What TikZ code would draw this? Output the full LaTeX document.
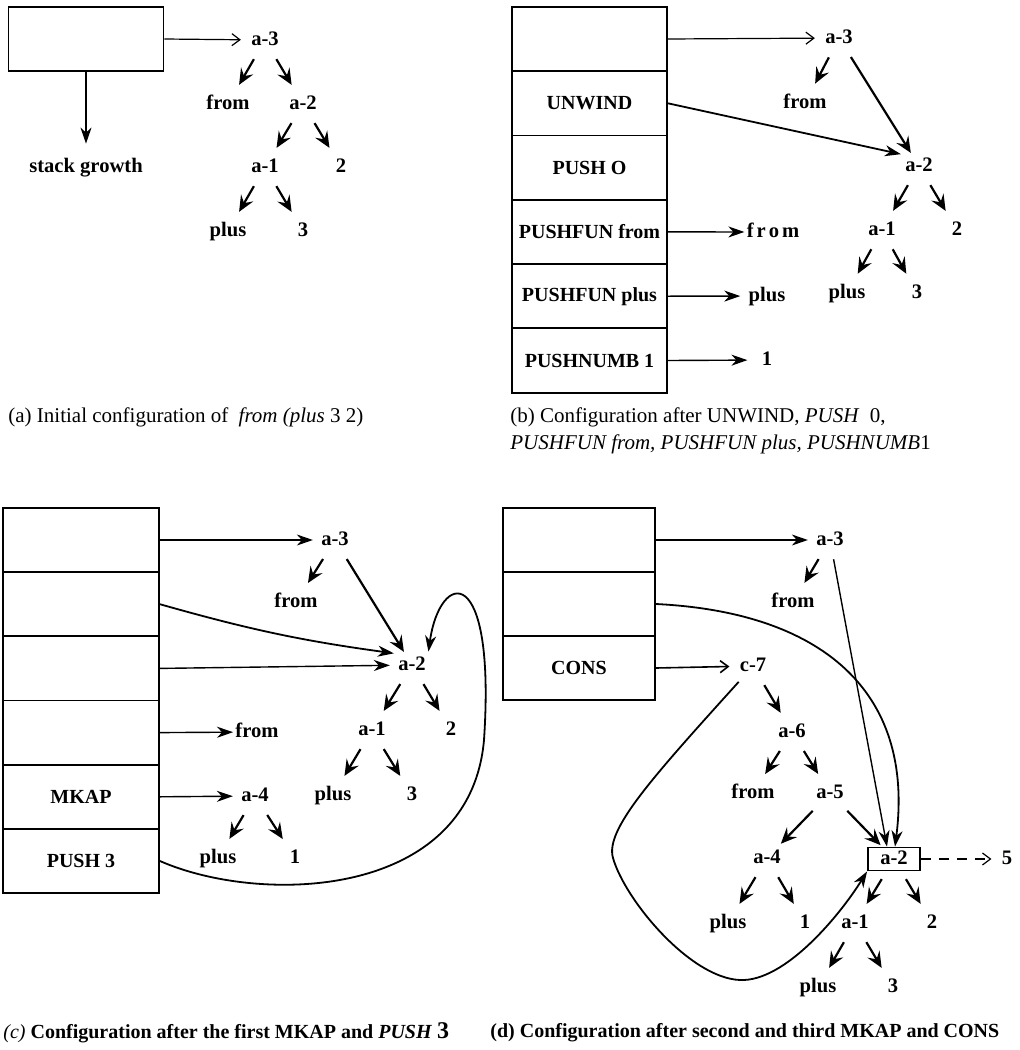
\documentclass[tikz,border=0pt]{standalone}
\usepackage{fontspec}
\setmainfont{Liberation Serif}
\usetikzlibrary{arrows.meta}

\tikzset{
  lbl/.style={font=\bfseries\fontsize{10.3}{12}\selectfont, inner sep=1pt, text height=7pt, text depth=2pt},
  cell/.style={draw, line width=0.9pt, minimum width=77.5pt, minimum height=32.15pt, inner sep=0pt,
    font=\bfseries\fontsize{10}{12}\selectfont},
  tarrow/.style={line width=1.1pt, -{Stealth[length=8pt,width=7pt,inset=3pt]}, shorten <=4.5pt, shorten >=4.5pt},
  ptr/.style={line width=0.7pt, -{Stealth[length=8pt,width=5.5pt,inset=2.5pt]}, shorten >=3pt},
  optr/.style={line width=0.6pt, -{Straight Barb[length=4pt,width=6pt]}, shorten >=4pt},
  capt/.style={font=\fontsize{10.5}{13.5}\selectfont, inner sep=0pt, anchor=west}
}

\begin{document}
\begin{tikzpicture}[x=0.5pt, y=-0.5pt]
	\useasboundingbox (0,0) rectangle (1020,1050);

	% (a) initial configuration
	\node[cell] (Sa) at (86,39) {};
	\node[lbl] (Ga) at (86,167) {stack growth};
	\node[lbl] (A3a) at (265,40) {a-3};
	\node[lbl] (Fa) at (228,104) {from};
	\node[lbl] (A2a) at (303,104) {a-2};
	\node[lbl] (A1a) at (265,167) {a-1};
	\node[lbl] (N2a) at (341,167) {2};
	\node[lbl] (Pa) at (228,231) {plus};
	\node[lbl] (N3a) at (303,231) {3};

	\draw[optr] (Sa.east) -- (A3a);
	\draw[ptr, line width=0.9pt, shorten >=6pt] (Sa) -- (Ga);
	\draw[tarrow] (A3a) -- (Fa);
	\draw[tarrow] (A3a) -- (A2a);
	\draw[tarrow] (A2a) -- (A1a);
	\draw[tarrow] (A2a) -- (N2a);
	\draw[tarrow] (A1a) -- (Pa);
	\draw[tarrow] (A1a) -- (N3a);

	\node[capt] (CapA) at (8,417) {(a) Initial configuration of\ \ \textit{from (plus} 3 2)};

	% (b) after UNWIND ... PUSHNUMB 1
	\node[cell] (B1) at (589.5,39) {};
	\node[cell] (B2) at (589.5,103.3) {UNWIND};
	\node[cell] (B3) at (589.5,167.6) {PUSH O};
	\node[cell] (B4) at (589.5,231.9) {PUSHFUN from};
	\node[cell] (B5) at (589.5,296.2) {PUSHFUN plus};
	\node[cell] (B6) at (589.5,360.5) {PUSHNUMB 1};

	\node[lbl] (A3b) at (839,38) {a-3};
	\node[lbl] (Fb) at (805,103) {from};
	\node[lbl] (A2b) at (919,166) {a-2};
	\node[lbl] (A1b) at (882,230) {a-1};
	\node[lbl] (N2b) at (957,230) {2};
	\node[lbl] (Pb) at (847,293) {plus};
	\node[lbl] (N3b) at (917,293) {3};
	\node[lbl] (FSb) at (773,232) {f\kern1.5pt r\kern1.5pt o\kern1.5pt m};
	\node[lbl] (PSb) at (767,296) {plus};
	\node[lbl] (N1b) at (767,360) {1};

	\draw[optr] (B1.east) -- (A3b);
	\draw[ptr, line width=0.9pt, shorten >=1pt] (B2.east) -- (A2b.north west);
	\draw[ptr, shorten >=0pt] (B4.east) -- (FSb);
	\draw[ptr] (B5.east) -- (PSb);
	\draw[ptr, shorten >=6pt] (B6.east) -- (N1b);
	\draw[tarrow] (A3b) -- (Fb);
	\draw[tarrow, shorten >=1pt] (A3b) -- (A2b);
	\draw[tarrow] (A2b) -- (A1b);
	\draw[tarrow] (A2b) -- (N2b);
	\draw[tarrow] (A1b) -- (Pb);
	\draw[tarrow] (A1b) -- (N3b);

	\node[capt, align=left] (CapB) at (510,431) {(b) Configuration after UNWIND, \textit{PUSH}\ \ 0,\\
		\textit{PUSHFUN from, PUSHFUN plus, PUSHNUMB}1};

	% (c) after the first MKAP and PUSH 3
	\node[cell, minimum width=78pt] (C1) at (81,540) {};
	\node[cell, minimum width=78pt] (C2) at (81,604.2) {};
	\node[cell, minimum width=78pt] (C3) at (81,668.4) {};
	\node[cell, minimum width=78pt] (C4) at (81,732.6) {};
	\node[cell, minimum width=78pt] (C5) at (81,796.8) {MKAP};
	\node[cell, minimum width=78pt] (C6) at (81,861) {PUSH 3};

	\node[lbl] (A3c) at (335,540) {a-3};
	\node[lbl] (Fc) at (296,602) {from};
	\node[lbl] (A2c) at (412,665) {a-2};
	\node[lbl] (A1c) at (372,730) {a-1};
	\node[lbl] (N2c) at (451,730) {2};
	\node[lbl] (Pc) at (333,795) {plus};
	\node[lbl] (N3c) at (412,795) {3};
	\node[lbl] (FSc) at (257,732) {from};
	\node[lbl] (A4c) at (255,796) {a-4};
	\node[lbl] (P4c) at (218,858) {plus};
	\node[lbl] (N1c) at (295,858) {1};

	\draw[ptr] (C1.east) -- (A3c);
	\draw[ptr, line width=0.9pt, shorten >=1pt] (C2.east) to[bend right=4] (A2c.north west);
	\draw[ptr] (C3.east) -- (A2c);
	\draw[ptr, shorten >=0pt] (C4.east) -- (FSc);
	\draw[ptr] (C5.east) -- (A4c);
	\draw[tarrow] (A3c) -- (Fc);
	\draw[tarrow, shorten >=1pt] (A3c) -- (A2c);
	\draw[tarrow] (A2c) -- (A1c);
	\draw[tarrow] (A2c) -- (N2c);
	\draw[tarrow] (A1c) -- (Pc);
	\draw[tarrow] (A1c) -- (N3c);
	\draw[tarrow] (A4c) -- (P4c);
	\draw[tarrow] (A4c) -- (N1c);
	\draw[ptr, line width=0.9pt, shorten >=1pt] (C6.east) .. controls (260,905) and (470,900) .. (484,740)
		.. controls (496,560) and (440,570) .. (A2c.north east);

	\node[capt, font=\fontsize{10}{13.5}\selectfont] (CapC) at (3,1033) {{\itshape(c)} \textbf{Configuration after the first MKAP and \textit{PUSH} {\fontsize{12}{14}\selectfont 3}}};

	% (d) after second and third MKAP and CONS
	\node[cell, minimum width=76pt] (D1) at (579,540) {};
	\node[cell, minimum width=76pt] (D2) at (579,604) {};
	\node[cell, minimum width=76pt] (D3) at (579,668) {CONS};

	\node[lbl] (A3d) at (830,540) {a-3};
	\node[lbl] (Fd) at (793,602) {from};
	\node[lbl] (C7d) at (753,666) {c-7};
	\node[lbl] (A6d) at (792,732) {a-6};
	\node[lbl] (F6d) at (753,793) {from};
	\node[lbl] (A5d) at (830,793) {a-5};
	\node[lbl] (A4d) at (767,858) {a-4};
	\node[lbl, draw, line width=0.9pt, minimum width=26pt, text height=6.5pt, text depth=1pt, inner sep=2pt] (A2d) at (894,859) {a-2};
	\node[lbl] (N5d) at (1007,859) {5};
	\node[lbl] (P4d) at (728,923) {plus};
	\node[lbl] (N1d) at (805,923) {1};
	\node[lbl] (A1d) at (855,923) {a-1};
	\node[lbl] (N2d) at (932,923) {2};
	\node[lbl] (Pd) at (818,987) {plus};
	\node[lbl] (N3d) at (893,987) {3};

	\draw[ptr] (D1.east) -- (A3d);
	\draw[optr, line width=0.8pt] (D3.east) -- (C7d);
	\draw[ptr, shorten <=4pt, shorten >=0pt] (A3d) -- ([xshift=-3.5pt]A2d.north);
	\draw[ptr, line width=0.9pt, shorten >=0pt] (D2.east) .. controls (820,612) and (915,690) .. ([xshift=0.5pt]A2d.north);
	\draw[tarrow] (A3d) -- (Fd);
	\draw[tarrow] (C7d) -- (A6d);
	\draw[tarrow] (A6d) -- (F6d);
	\draw[tarrow] (A6d) -- (A5d);
	\draw[tarrow, shorten >=2pt] (A5d) -- (A4d);
	\draw[tarrow, shorten >=1pt] (A5d) -- (A2d);
	\draw[tarrow] (A4d) -- (P4d);
	\draw[tarrow] (A4d) -- (N1d);
	\draw[tarrow] (A2d) -- (A1d);
	\draw[tarrow] (A2d) -- (N2d);
	\draw[tarrow] (A1d) -- (Pd);
	\draw[tarrow] (A1d) -- (N3d);
	\draw[ptr, line width=0.9pt, shorten <=3pt, shorten >=0pt] (C7d) .. controls (650,780) and (605,830) .. (613,858)
		.. controls (625,900) and (690,978) .. (740,980)
		.. controls (785,982) and (840,915) .. (A2d.south west);
	\draw[optr, dashed, dash pattern=on 5pt off 4pt] (A2d) -- (N5d);

	\node[capt, font=\bfseries\fontsize{10}{13.5}\selectfont] (CapD) at (490,1033) {(d) Configuration after second and third MKAP and CONS};
\end{tikzpicture}
\end{document}
